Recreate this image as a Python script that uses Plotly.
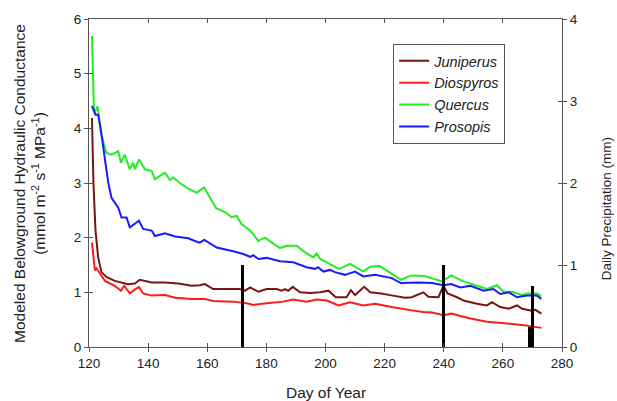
import plotly.graph_objects as go

# ---- data ----
jun_day = [121, 121.5, 122.2, 123.1, 124.2, 125.9, 128.7, 133.2, 135.5, 137.2, 141.2, 145.7, 150.2, 154.7,
           157.5, 159.2, 162, 166.6, 171, 172.8, 174.5, 177.3, 180.1, 183.5, 185.2, 186.3, 187.4, 188.9,
           191.4, 194.8, 198.2, 201, 203.5, 207.1, 208.6, 210, 213.1, 215.1, 218.8, 222.8, 226.9, 229.2,
           233.1, 234.8, 238.2, 239.9, 241.3, 244.5, 246.7, 251.2, 254.6, 256.3, 259.1, 262, 264.8, 266.5,
           269.3, 271, 273]
jun_val = [4.19, 3.0, 2.13, 1.64, 1.37, 1.28, 1.21, 1.15, 1.16, 1.23, 1.18, 1.18, 1.16, 1.12,
           1.13, 1.15, 1.06, 1.06, 1.06, 1.03, 1.09, 1.01, 1.06, 1.06, 1.03, 1.06, 1.03, 1.10,
           1.00, 0.99, 1.00, 1.03, 0.91, 0.91, 1.04, 0.95, 1.10, 1.00, 0.98, 0.94, 0.90, 0.91,
           1.00, 0.92, 0.91, 1.12, 0.98, 0.91, 0.85, 0.79, 0.76, 0.82, 0.73, 0.70, 0.76, 0.70,
           0.67, 0.68, 0.61]

dio_day = [121, 122, 122.5, 123.7, 125.4, 128.7, 130.8, 131.9, 133.8, 135.5, 136.9, 138.3, 141.2, 145.7,
           149.1, 154.7, 159.2, 162, 168.8, 173.3, 175.6, 180.1, 185.7, 189.1, 193.6, 197, 200.5, 204.4,
           208.3, 212.8, 216.8, 222.4, 225.3, 229.2, 233, 236, 239.9, 242.5, 249, 254.6, 261.4, 267, 273]
dio_val = [1.91, 1.40, 1.44, 1.34, 1.21, 1.12, 1.03, 1.12, 0.98, 1.05, 1.10, 0.98, 0.94, 0.95,
           0.90, 0.88, 0.88, 0.84, 0.83, 0.80, 0.77, 0.80, 0.83, 0.87, 0.83, 0.87, 0.85, 0.76,
           0.82, 0.76, 0.79, 0.73, 0.70, 0.67, 0.64, 0.63, 0.58, 0.61, 0.52, 0.46, 0.43, 0.40, 0.35]

que_day = [121, 121.7, 122.9, 124, 125.9, 127.6, 129.9, 130.8, 132.1, 133.8, 134.9, 135.5, 136.9, 138.9,
           141.2, 142.3, 145.7, 147.4, 148.5, 150.7, 153.5, 156.4, 158.9, 160.9, 163, 166.3, 168.3, 169.9,
           171.6, 174.5, 177.3, 179.5, 181.8, 184.6, 186.9, 190.3, 193.1, 195.9, 197, 198.2, 200.4, 204.6,
           208.3, 212.8, 215.1, 218.2, 221.6, 225.5, 229, 233.4, 239.5, 242.5, 246.2, 251, 254.6, 258,
           260.2, 263.3, 266.5, 268.2, 271.5, 273]
que_val = [5.69, 4.28, 4.40, 3.92, 3.55, 3.52, 3.58, 3.37, 3.52, 3.25, 3.37, 3.25, 3.43, 3.25,
           3.22, 3.07, 3.19, 3.05, 3.10, 3.00, 2.90, 2.82, 2.92, 2.73, 2.54, 2.46, 2.37, 2.40,
           2.25, 2.13, 1.94, 2.00, 1.91, 1.81, 1.85, 1.85, 1.73, 1.64, 1.71, 1.61, 1.55, 1.43,
           1.52, 1.38, 1.47, 1.48, 1.37, 1.23, 1.31, 1.30, 1.20, 1.31, 1.21, 1.12, 1.06, 1.13,
           1.01, 1.01, 0.95, 0.98, 0.98, 0.93]

pro_day = [121, 122.2, 123.1, 124, 125.4, 126.5, 127.6, 129.9, 131, 132.7, 133.8, 135.5, 136.9, 138.3,
           141.2, 142.3, 145.7, 149.1, 153.6, 155.8, 157.5, 159, 163.2, 168.8, 172.2, 174.5, 175.6, 177.3,
           180.1, 184.6, 189.1, 193.6, 196.5, 197.5, 199.3, 201.5, 203.2, 206.6, 210, 212.8, 216.8, 222.4,
           225.5, 231.5, 236, 239.9, 242.5, 245.6, 249, 253.5, 256.8, 259.1, 262, 264.8, 268.2, 271.5, 273]
pro_val = [4.41, 4.25, 4.25, 3.98, 3.43, 3.01, 2.73, 2.55, 2.37, 2.37, 2.19, 2.25, 2.31, 2.16,
           2.13, 2.03, 2.08, 2.02, 1.99, 1.94, 1.91, 1.96, 1.82, 1.75, 1.70, 1.65, 1.68, 1.61,
           1.63, 1.57, 1.55, 1.46, 1.43, 1.46, 1.38, 1.41, 1.37, 1.32, 1.38, 1.29, 1.32, 1.26,
           1.17, 1.18, 1.17, 1.13, 1.15, 1.09, 1.12, 1.03, 1.06, 0.97, 1.00, 0.91, 0.94, 0.94, 0.88]

precip_day = [172, 240, 269, 270]
precip_mm = [1.0, 1.0, 0.25, 0.75]

x_ticks = [120, 140, 160, 180, 200, 220, 240, 260, 280]
y_ticks = [0, 1, 2, 3, 4, 5, 6]
y2_ticks = [0, 1, 2, 3, 4]

FONT = "Liberation Sans, Arial, sans-serif"
AX = "#555555"
TXT = "#222222"

fig = go.Figure()
series = [
    ("<i>Juniperus</i>", jun_day, jun_val, "#7a1414"),
    ("<i>Diospyros</i>", dio_day, dio_val, "#ff1a1a"),
    ("<i>Quercus</i>", que_day, que_val, "#22ee22"),
    ("<i>Prosopis</i>", pro_day, pro_val, "#1a1aff"),
]
for name, xs, ys, col in series:
    fig.add_trace(go.Scatter(x=xs, y=ys, name=name, mode="lines",
                             line=dict(color=col, width=2), xaxis="x", yaxis="y"))

fig.add_trace(go.Bar(x=precip_day, y=precip_mm, width=0.9, marker=dict(color="black", line=dict(width=0)),
                     showlegend=False, xaxis="x", yaxis="y2"))

# dummy traces so overlay axes (inward tick halves) are drawn
fig.add_trace(go.Scatter(x=[None], y=[None], xaxis="x3", yaxis="y3", showlegend=False, hoverinfo="skip"))
fig.add_trace(go.Scatter(x=[None], y=[None], xaxis="x3", yaxis="y4", showlegend=False, hoverinfo="skip"))

common = dict(showgrid=False, zeroline=False, showline=True, linecolor=AX, linewidth=1,
              tickcolor=AX, ticklen=4, tickwidth=1)

fig.update_layout(
    width=617, height=401,
    margin=dict(l=89, r=55, t=17, b=54),
    paper_bgcolor="white", plot_bgcolor="white",
    font=dict(family=FONT, color=TXT, size=13.5),
    bargap=0,
    xaxis=dict(range=[120, 280], tickvals=x_ticks, ticks="outside", mirror=False,
               tickfont=dict(size=13.5, color=TXT), **common),
    xaxis3=dict(range=[120, 280], tickvals=x_ticks, ticks="inside", mirror="ticks",
                overlaying="x", anchor="y", showticklabels=False, **common),
    yaxis=dict(range=[0, 6], tickvals=y_ticks, ticks="outside",
               tickfont=dict(size=13.5, color=TXT), **common),
    yaxis3=dict(range=[0, 6], tickvals=y_ticks, ticks="inside", overlaying="y",
                anchor="x", showticklabels=False, **common),
    yaxis2=dict(range=[0, 4], tickvals=y2_ticks, ticks="outside", overlaying="y", side="right",
                anchor="x", tickfont=dict(size=13.5, color=TXT), **common),
    yaxis4=dict(range=[0, 4], tickvals=y2_ticks, ticks="inside", overlaying="y", side="right",
                anchor="x", showticklabels=False, **common),
    legend=dict(x=0.643, y=0.924, xanchor="left", yanchor="top",
                bgcolor="white", bordercolor=AX, borderwidth=1,
                font=dict(size=14.5, color=TXT), itemwidth=30, tracegroupgap=0),
    annotations=[
        dict(text="Modeled Belowground Hydraulic Conductance<br>(mmol m<sup>-2</sup> s<sup>-1</sup> MPa<sup>-1</sup>)",
             xref="paper", yref="paper", x=-0.127, y=0.5, xanchor="center", yanchor="middle",
             textangle=-90, showarrow=False, font=dict(size=15.5, color=TXT)),
        dict(text="Daily Precipitation (mm)", xref="paper", yref="paper", x=1.094, y=0.421,
             xanchor="center", yanchor="middle", textangle=-90, showarrow=False,
             font=dict(size=13.5, color=TXT)),
        dict(text="Day of Year", xref="paper", yref="paper", x=0.5, y=-0.139,
             xanchor="center", yanchor="middle", showarrow=False, font=dict(size=15.5, color=TXT)),
    ],
)

fig.write_html("out.html")
